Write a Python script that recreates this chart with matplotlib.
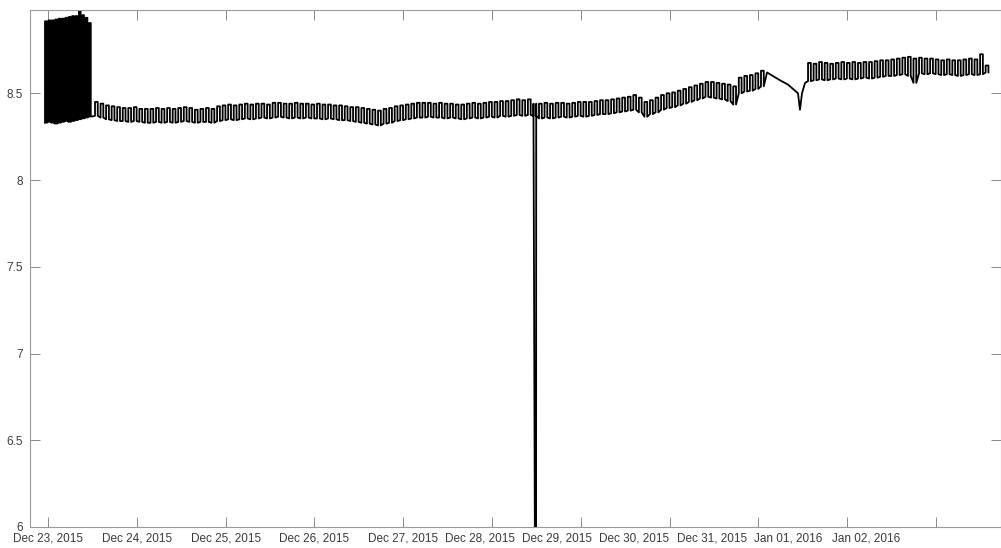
import numpy as np
import matplotlib.pyplot as plt
import matplotlib.dates as mdates

# start-up burst, one spike every 55 min
burst_start = np.datetime64('2015-12-22T23:11')
burst_period = 55
burst_high = [8.915, 8.92, 8.92, 8.925, 8.93, 8.93, 8.935, 8.94, 8.945, 8.945,
              8.98, 8.95, 8.935, 8.905]
burst_low = [8.33, 8.335, 8.33, 8.325, 8.33, 8.335, 8.34, 8.335, 8.34, 8.345,
             8.35, 8.355, 8.36, 8.365]

# regular cycling, 90 min per cycle
main_start = np.datetime64('2015-12-23T12:42')
main_period = 90
main_high = [8.45, 8.44, 8.43, 8.425, 8.42, 8.415, 8.415, 8.42, 8.41, 8.41,
             8.41, 8.415, 8.41, 8.415, 8.41, 8.415, 8.42, 8.415, 8.405, 8.41,
             8.415, 8.41, 8.425, 8.43, 8.435, 8.43, 8.435, 8.44, 8.435, 8.44,
             8.44, 8.435, 8.445, 8.445, 8.44, 8.44, 8.445, 8.44, 8.44, 8.435,
             8.44, 8.435, 8.435, 8.43, 8.43, 8.425, 8.42, 8.42, 8.415, 8.41,
             8.405, 8.40, 8.41, 8.415, 8.425, 8.43, 8.435, 8.44, 8.445, 8.445,
             8.445, 8.44, 8.445, 8.44, 8.44, 8.435, 8.435, 8.44, 8.445, 8.44,
             8.445, 8.45, 8.45, 8.455, 8.455, 8.46, 8.465, 8.46, 8.465, 8.44,
             8.44, 8.445, 8.44, 8.445, 8.445, 8.44, 8.445, 8.45, 8.45, 8.45,
             8.455, 8.46, 8.46, 8.465, 8.47, 8.475, 8.48, 8.49, 8.475, 8.45,
             8.46, 8.475, 8.49, 8.50, 8.505, 8.515, 8.525, 8.535, 8.545, 8.555,
             8.565, 8.565, 8.56, 8.555, 8.55, 8.54, 8.59, 8.60, 8.605, 8.615,
             8.63]
main_low = [8.37, 8.36, 8.35, 8.345, 8.34, 8.34, 8.335, 8.34, 8.335, 8.33,
            8.33, 8.335, 8.33, 8.335, 8.33, 8.335, 8.34, 8.335, 8.33, 8.335,
            8.335, 8.33, 8.34, 8.345, 8.35, 8.345, 8.35, 8.355, 8.35, 8.355,
            8.36, 8.355, 8.36, 8.365, 8.36, 8.355, 8.36, 8.355, 8.36, 8.355,
            8.355, 8.35, 8.355, 8.35, 8.345, 8.345, 8.34, 8.335, 8.33, 8.325,
            8.32, 8.315, 8.325, 8.33, 8.34, 8.345, 8.35, 8.355, 8.36, 8.36,
            8.365, 8.36, 8.36, 8.355, 8.36, 8.355, 8.35, 8.355, 8.36, 8.355,
            8.36, 8.365, 8.36, 8.37, 8.365, 8.37, 8.375, 8.37, 8.375, 8.37,
            8.355, 8.36, 8.355, 8.36, 8.365, 8.36, 8.365, 8.37, 8.365, 8.37,
            8.375, 8.38, 8.38, 8.385, 8.39, 8.395, 8.40, 8.405, 8.39, 8.365,
            8.38, 8.39, 8.405, 8.415, 8.42, 8.43, 8.44, 8.45, 8.46, 8.47,
            8.48, 8.475, 8.47, 8.465, 8.455, 8.435, 8.50, 8.51, 8.515, 8.525,
            8.54]

# single dropout reading on Dec 28
dropout_time = np.array(['2015-12-28T11:53'], dtype='datetime64[m]')
dropout_value = [4.0]

# sparse readings around the Dec 31 outage
gap_times = np.array(['2015-12-31T02:20', '2015-12-31T05:50', '2015-12-31T08:00',
                      '2015-12-31T10:42', '2015-12-31T11:14', '2015-12-31T11:47',
                      '2015-12-31T12:36'], dtype='datetime64[m]')
gap_values = [8.62, 8.575, 8.55, 8.50, 8.405, 8.50, 8.56]

tail_start = np.datetime64('2015-12-31T13:25')
tail_period = 90
tail_high = [8.675, 8.67, 8.68, 8.675, 8.67, 8.675, 8.68, 8.675, 8.68, 8.675,
             8.68, 8.68, 8.685, 8.69, 8.69, 8.695, 8.70, 8.705, 8.71, 8.70,
             8.705, 8.70, 8.70, 8.695, 8.69, 8.695, 8.69, 8.69, 8.695, 8.70,
             8.695, 8.725, 8.66]
tail_low = [8.57, 8.575, 8.58, 8.575, 8.58, 8.585, 8.58, 8.585, 8.58, 8.585,
            8.59, 8.585, 8.59, 8.595, 8.60, 8.60, 8.605, 8.61, 8.60, 8.56,
            8.615, 8.61, 8.615, 8.61, 8.605, 8.61, 8.605, 8.60, 8.605, 8.61,
            8.605, 8.61, 8.62]

day_ticks = np.arange('2015-12-23', '2016-01-03', dtype='datetime64[D]')
day_labels = ['Dec 23, 2015', 'Dec 24, 2015', 'Dec 25, 2015', 'Dec 26, 2015',
              'Dec 27, 2015', 'Dec 28, 2015', 'Dec 29, 2015', 'Dec 30, 2015',
              'Dec 31, 2015', 'Jan 01, 2016', 'Jan 02, 2016']
# the later labels sit a little left of their ticks
label_slots = np.array(['2015-12-23T00:00', '2015-12-24T00:00', '2015-12-25T00:00',
                        '2015-12-26T00:00', '2015-12-27T00:00', '2015-12-27T20:46',
                        '2015-12-28T17:34', '2015-12-29T14:23', '2015-12-30T11:27',
                        '2015-12-31T08:00', '2016-01-01T05:05'], dtype='datetime64[m]')
y_ticks = [6, 6.5, 7, 7.5, 8, 8.5]


def cycles(start, period_min, high, low):
    # square wave: jump up, hold half a cycle, jump down, hold
    high = np.asarray(high)
    low = np.asarray(low)
    half = np.timedelta64(int(period_min * 30), 's')
    t0 = start.astype('datetime64[s]') + np.arange(len(high)) * np.timedelta64(period_min * 60, 's')
    t = np.stack([t0, t0 + np.timedelta64(1, 's'), t0 + half, t0 + half + np.timedelta64(1, 's')], axis=1).ravel()
    v = np.stack([low, high, high, low], axis=1).ravel()
    return t, v


parts = [cycles(burst_start, burst_period, burst_high, burst_low),
         cycles(main_start, main_period, main_high, main_low),
         (dropout_time.astype('datetime64[s]'), np.asarray(dropout_value)),
         (gap_times.astype('datetime64[s]'), np.asarray(gap_values)),
         cycles(tail_start, tail_period, tail_high, tail_low)]
t = np.concatenate([p[0] for p in parts])
v = np.concatenate([p[1] for p in parts])
order = np.argsort(t, kind='stable')
t, v = t[order], v[order]

plt.rcParams['font.family'] = ['Liberation Sans', 'DejaVu Sans']
fig = plt.figure(figsize=(10.01, 5.48), dpi=100)
ax = fig.add_axes([30 / 1001, 1 - 527 / 548, 971 / 1001, 517 / 548])

ax.plot(mdates.date2num(t), v, color='black', lw=1.3)

ax.set_xlim(mdates.date2num(np.datetime64('2015-12-22T19:08')),
            mdates.date2num(np.datetime64('2016-01-02T17:34')))
ax.set_ylim(6, 8.98)

ax.xaxis.remove_overlapping_locs = False
ax.set_xticks(mdates.date2num(day_ticks))
ax.set_xticklabels([])
ax.set_xticks(mdates.date2num(label_slots), minor=True)
ax.set_xticklabels(day_labels, minor=True)
ax.set_yticks(y_ticks)
ax.set_yticklabels(['6', '6.5', '7', '7.5', '8', '8.5'])

ax.tick_params(axis='both', which='major', direction='in', length=7,
               width=0.7, color='#8a8a8a', top=True, right=True,
               labelsize=8.5, labelcolor='#3a3a3a')
ax.tick_params(axis='x', which='minor', length=0, pad=4,
               labelsize=8.5, labelcolor='#3a3a3a')
ax.tick_params(axis='y', pad=5)
for s in ax.spines.values():
    s.set_color('#9a9a9a')
    s.set_linewidth(0.8)

fig.savefig('out.png', dpi=100)
